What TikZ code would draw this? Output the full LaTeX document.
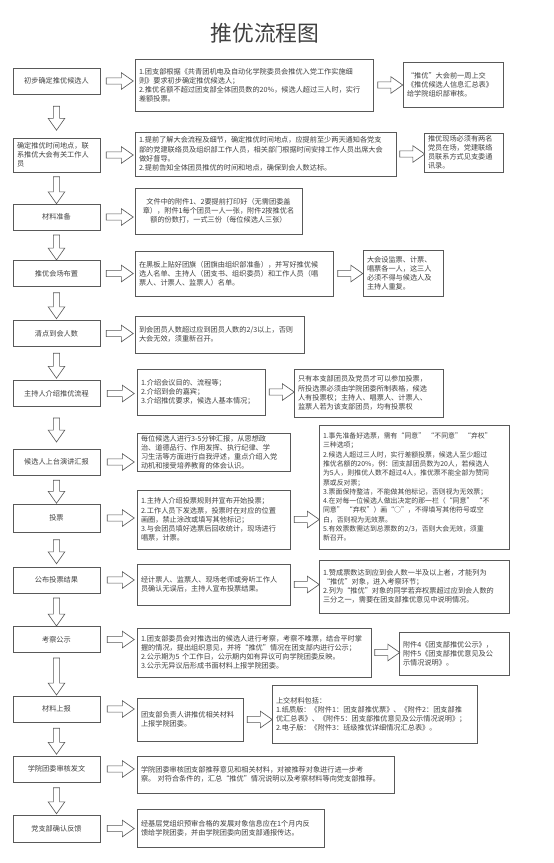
\documentclass[tikz,border=0pt]{standalone}
\usepackage{fontspec}
\setmainfont{Noto Sans CJK SC}
\usetikzlibrary{shapes.arrows}

\definecolor{linegray}{HTML}{595959}
\definecolor{txtgray}{HTML}{404040}

\tikzset{
  box/.style={draw=linegray, line width=1pt, fill=white, text=txtgray, inner xsep=0.2cm, inner ysep=2pt, font=\fontsize{10.2}{13}\selectfont},
  lbox/.style={box, text width=3.95cm, align=center, minimum height=1.3cm},
  tbox/.style={box, align=left, text width=#1},
  blk/.style={single arrow, draw=linegray, line width=0.9pt, fill=white, inner sep=0pt, text height=0.14cm, text depth=0.14cm, single arrow head extend=0.26cm, single arrow tip angle=70, minimum height=#1},
  harr/.style={blk=1.35cm},
  rarr/.style={blk=1.25cm},
  darr/.style={blk=#1, rotate=-90}
}

\begin{document}
\begin{tikzpicture}[x=0.05cm,y=-0.05cm]
\useasboundingbox (0,0) rectangle (554,863);

\node[text=txtgray, font=\fontsize{31}{31}\selectfont] (title) at (265,33) {推优流程图};

\node[lbox] (l1) at (56.5,81) {初步确定推优候选人};
\node[tbox=11.5cm, minimum height=2.6cm] (m1) at (254,85) {1.团支部根据《共青团机电及自动化学院委员会推优入党工作实施细\\则》要求初步确定推优候选人；\\2.推优名额不超过团支部全体团员数的20\%，候选人超过三人时，实行\\差额投票。};
\node[tbox=4.6cm, minimum height=2.25cm] (r1) at (453,84.5) {“推优”大会前一周上交\\《推优候选人信息汇总表》\\给学院组织部审核。};

\node[lbox, minimum height=1.7cm, align=left] (l2) at (56.5,155) {确定推优时间地点，联\\系推优大会有关工作人\\员};
\node[tbox=12.65cm, minimum height=2.2cm] (m2) at (265.5,154) {1.提前了解大会流程及细节，确定推优时间地点，应提前至少两天通知各党支\\部的党建联络员及组织部工作人员，相关部门根据时间安排工作人员出席大会\\做好督导。\\2.提前告知全体团员推优的时间和地点，确保到会人数达标。};
\node[tbox=3.55cm, minimum height=1.95cm] (r2) at (463.5,152.5) {推优现场必须有两名\\党员在场，党建联络\\员联系方式见支委通\\讯录。};

\node[lbox] (l3) at (56.5,217) {材料准备};
\node[tbox=7.95cm, align=center, minimum height=2.3cm] (m3) at (218.5,211) {文件中的附件1、2要提前打印好（无需团委盖\\章），附件1每个团员一人一张，附件2按推优名\\额的份数打，一式三份（每位候选人三张）};

\node[lbox] (l4) at (56.5,273.5) {推优会场布置};
\node[tbox=9.5cm, minimum height=2.25cm] (m4) at (234,273.5) {在黑板上贴好团旗（团旗由组织部准备），并写好推优候\\选人名单、主持人（团支书、组织委员）和工作人员（唱\\票人、计票人、监票人）名单。};
\node[tbox=3.6cm, minimum height=2.3cm] (r4) at (403,273) {大会设监票、计票、\\唱票各一人，这三人\\必须不得与候选人及\\主持人重复。};

\node[lbox] (l5) at (56.5,333.5) {清点到会人数};
\node[tbox=8.05cm, minimum height=1.85cm] (m5) at (219.5,334.5) {到会团员人数超过应到团员人数的2/3以上，否则\\大会无效，须重新召开。};

\node[lbox] (l6) at (56.5,393.5) {主持人介绍推优流程};
\node[tbox=6cm, minimum height=2.3cm] (m6) at (201,392) {1.介绍会议目的、流程等；\\2.介绍到会的嘉宾；\\3.介绍推优要求，候选人基本情况；};
\node[tbox=7.05cm, minimum height=2.4cm] (r6) at (368.5,393) {只有本支部团员及党员才可以参加投票，\\所投选票必须由学院团委所制表格，候选\\人有投票权；主持人、唱票人、计票人、\\监票人若为该支部团员，均有投票权};

\node[lbox] (l7) at (56.5,462) {候选人上台演讲汇报};
\node[tbox=7.25cm, minimum height=1.9cm] (m7) at (213.5,452) {每位候选人进行3-5分钟汇报，从思想政\\治、道德品行、作用发挥、执行纪律、学\\习生活等方面进行自我评述，重点介绍入党\\动机和接受培养教育的体会认识。};

\node[lbox, minimum height=1.4cm] (l8) at (56.5,518) {投票};
\node[tbox=7.25cm, minimum height=2.95cm] (m8) at (213.5,519.5) {1.主持人介绍投票规则并宣布开始投票；\\2.工作人员下发选票，投票时在对应的位置\\画圈，禁止涂改或填写其他标记；\\3.与会团员填好选票后回收统计，现场进行\\唱票，计票。};
\node[tbox=9.1cm, minimum height=6.2cm, font=\fontsize{9.8}{13.2}\selectfont] (r8) at (414,487) {1.事先准备好选票，需有“同意” “不同意” “弃权”\\三种选项；\\2.候选人超过三人时，实行差额投票，候选人至少超过\\推优名额的20\%，例：团支部团员数为20人，若候选人\\为5人，则推优人数不超过4人，推优票不能全部为赞同\\票或反对票；\\3.票面保持整洁，不能做其他标记，否则视为无效票；\\4.在对每一位候选人做出决定的那一栏（“同意” “不\\同意” “弃权”）画“○”，不得填写其他符号或空\\白，否则视为无效票。\\5.有效票数需达到总票数的2/3，否则大会无效，须重\\新召开。};

\node[lbox] (l9) at (56.5,580) {公布投票结果};
\node[tbox=7.25cm, minimum height=2.05cm] (m9) at (213.5,584.5) {经计票人、监票人、现场老师或旁听工作人\\员确认无误后，主持人宣布投票结果。};
\node[tbox=9.1cm, minimum height=2.65cm] (r9) at (414,586.5) {1.赞成票数达到应到会人数一半及以上者，才能列为\\“推优”对象，进入考察环节；\\2.列为“推优”对象的同学若弃权票超过应到会人数的\\三分之一，需要在团支部推优意见中说明情况。};

\node[lbox] (l10) at (56.5,639.5) {考察公示};
\node[tbox=11.3cm, minimum height=2.45cm] (m10) at (254,652.5) {1.团支部委员会对推选出的候选人进行考察，考察不唯票，结合平时掌\\握的情况，提出组织意见，并将“推优”情况在团支部内进行公示；\\2.公示期为5 个工作日，公示期内如有异议可向学院团委反映。\\3.公示无异议后形成书面材料上报学院团委。};
\node[tbox=5.1cm, minimum height=2.15cm] (r10) at (454,653.5) {附件4《团支部推优公示》，\\附件5《团支部推优意见及公\\示情况说明》。};

\node[lbox] (l11) at (56.5,709) {材料上报};
\node[tbox=4.9cm, minimum height=2.15cm] (m11) at (190,719.5) {团支部负责人讲推优相关材料\\上报学院团委。};
\node[tbox=9.85cm, minimum height=2.9cm] (r11) at (374.5,714) {上交材料包括：\\1.纸质版：《附件1：团支部推优票》、《附件2：团支部推\\优汇总表》、《附件5：团支部推优意见及公示情况说明》；\\2.电子版：《附件3：班级推优详细情况汇总表》。};

\node[lbox] (l12) at (56.5,769) {学院团委审核发文};
\node[tbox=12.45cm, minimum height=1.85cm] (m12) at (265.5,774.5) {学院团委审核团支部推荐意见和相关材料，对被推荐对象进行进一步考\\察。 对符合条件的，汇总“推优”情况说明以及考察材料等向党支部推荐。};

\node[lbox, minimum height=1.35cm] (l13) at (56.5,828.5) {党支部确认反馈};
\node[tbox=8.95cm, minimum height=1.9cm] (m13) at (230.5,828) {经基层党组织预审合格的发展对象信息应在1个月内反\\馈给学院团委，并由学院团委向团支部通报传达。};

% block arrows
\foreach \i in {1,...,13}
  \path (l\i.east) -- (l\i.east -| m\i.west) node[midway,harr] (h\i) {};
\foreach \i in {1,2,4,6,8,9,10,11}
  \path (m\i.east) -- (m\i.east -| r\i.west) node[midway,rarr] (g\i) {};
\foreach \i/\j/\len in {1/2/1.2,2/3/1.35,3/4/1.25,4/5/1.3,5/6/1.25,6/7/1.2,7/8/1.15,8/9/1.2,9/10/1.4,10/11/1.85,11/12/1.3,12/13/1.3}
  \path (l\i) -- (l\j) node[midway,darr=\len cm] (d\i) {};
\end{tikzpicture}
\end{document}
